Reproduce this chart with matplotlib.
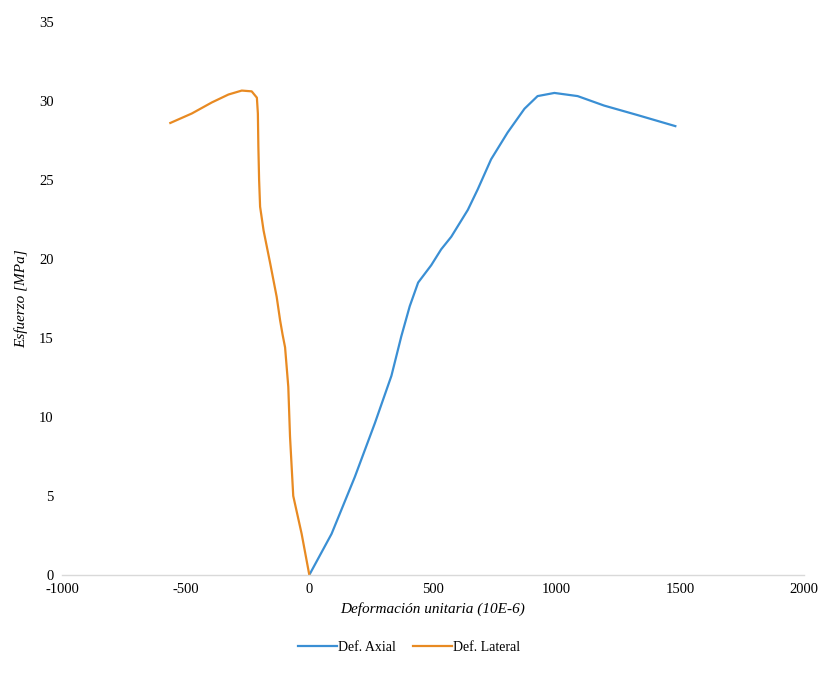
import matplotlib
matplotlib.use("Agg")
import matplotlib.pyplot as plt

# ── Data ─────────────────────────────────────────────────────────────────────
axial_x = [0, 90, 184, 265, 332, 372, 406, 440, 493, 533, 574, 641, 681, 735,
           802, 870, 923, 991, 1085, 1192, 1327, 1480]
axial_y = [0, 2.6, 6.2, 9.6, 12.6, 15.1, 17.0, 18.5, 19.6, 20.6, 21.4, 23.1, 24.4, 26.3,
           28.0, 29.5, 30.3, 30.5, 30.3, 29.7, 29.1, 28.4]

lateral_x = [0, -31, -65, -78, -85, -98, -108, -118, -132, -158, -185, -199, -203,
             -206, -208, -212, -233, -273, -327, -394, -475, -562]
lateral_y = [0, 2.6, 5.0, 8.75, 11.9, 14.4, 15.2, 16.1, 17.6, 19.7, 21.8, 23.3, 25.0,
             27.1, 29.2, 30.2, 30.6, 30.65, 30.4, 29.9, 29.2, 28.6]

x_ticks = [-1000, -500, 0, 500, 1000, 1500, 2000]
y_ticks = [0, 5, 10, 15, 20, 25, 30, 35]

plt.rcParams["font.family"] = ["Liberation Serif", "DejaVu Serif"]
plt.rcParams["axes.unicode_minus"] = False

fig = plt.figure(figsize=(8.18, 6.82), dpi=100)
ax = fig.add_axes([0.0758, 0.157, 0.907, 0.811])

ax.plot(axial_x, axial_y, color="#3a8fd4", linewidth=1.6, label="Def. Axial",
        solid_joinstyle="round")
ax.plot(lateral_x, lateral_y, color="#e88a22", linewidth=1.6, label="Def. Lateral",
        solid_joinstyle="round")

ax.set_xlim(-1000, 2000)
ax.set_ylim(0, 35)
ax.set_xticks(x_ticks)
ax.set_yticks(y_ticks)
ax.tick_params(length=0, labelsize=10.5, pad=6)

for side in ["top", "right", "left"]:
    ax.spines[side].set_visible(False)
ax.spines["bottom"].set_color("#d9d9d9")
ax.spines["bottom"].set_linewidth(1.0)

ax.set_xlabel("Deformación unitaria (10E-6)", fontsize=11, style="italic", labelpad=4)
ax.set_ylabel("Esfuerzo [MPa]", fontsize=11, style="italic", labelpad=8)

fig.legend(loc="center", bbox_to_anchor=(0.5, 0.051), ncol=2, frameon=False,
           fontsize=10, handlelength=2.8, handletextpad=0.1, columnspacing=1.2)

fig.savefig("out.png", dpi=100)
